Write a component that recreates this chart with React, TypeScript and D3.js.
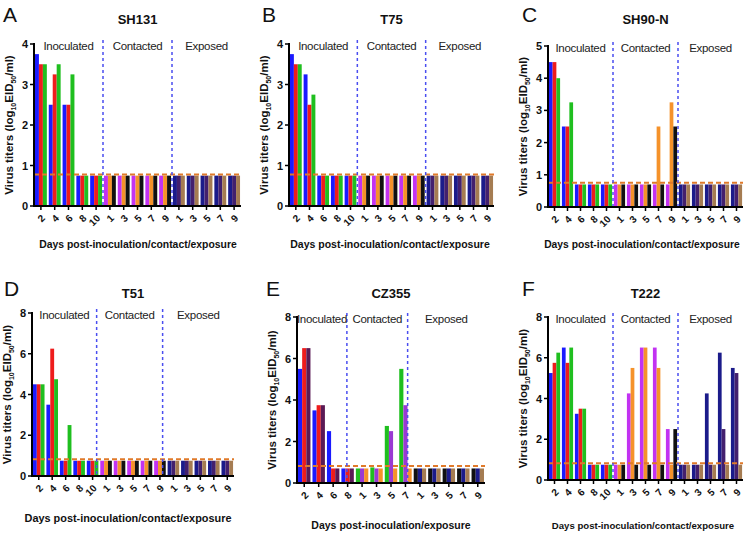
import React from "react";
import * as d3 from "d3";

// ---------- tick labels ----------
const inocDays = ["2", "4", "6", "8", "10"];
const oddDays = ["1", "3", "5", "7", "9"];
const eInocDays = ["2", "4", "6", "8"];
const eContactDays = ["1", "3", "5", "7"];

// ---------- values: one row per day, three animals per row ----------
const aValues = [
  [3.75, 3.5, 3.5], [2.5, 3.25, 3.5], [2.5, 2.5, 3.25], [0.75, 0.75, 0.75], [0.75, 0.75, 0.75],
  [0.75, 0.75, 0.75], [0.75, 0.75, 0.75], [0.75, 0.75, 0.75], [0.75, 0.75, 0.75], [0.75, 0.75, 0.75],
  [0.75, 0.75, 0.75], [0.75, 0.75, 0.75], [0.75, 0.75, 0.75], [0.75, 0.75, 0.75], [0.75, 0.75, 0.75],
];
const bValues = [
  [3.75, 3.5, 3.5], [3.25, 2.5, 2.75], [0.75, 0.75, 0.75], [0.75, 0.75, 0.75], [0.75, 0.75, 0.75],
  [0.75, 0.75, 0.75], [0.75, 0.75, 0.75], [0.75, 0.75, 0.75], [0.75, 0.75, 0.75], [0.75, 0.75, 0.75],
  [0.75, 0.75, 0.75], [0.75, 0.75, 0.75], [0.75, 0.75, 0.75], [0.75, 0.75, 0.75], [0.75, 0.75, 0.75],
];
const cValues = [
  [4.5, 4.5, 4.0], [2.5, 2.5, 3.25], [0.7, 0.7, 0.7], [0.7, 0.7, 0.7], [0.7, 0.7, 0.7],
  [0.7, 0.7, 0.7], [0.7, 0.7, 0.7], [0.7, 0.7, 0.7], [0.7, 2.5, 0.7], [0.7, 3.25, 2.5],
  [0.7, 0.7, 0.7], [0.7, 0.7, 0.7], [0.7, 0.7, 0.7], [0.7, 0.7, 0.7], [0.7, 0.7, 0.7],
];
const dValues = [
  [4.5, 4.5, 4.5], [3.5, 6.25, 4.75], [0.75, 0.75, 2.5], [0.75, 0.75, 0.75], [0.75, 0.75, 0.75],
  [0.75, 0.75, 0.75], [0.75, 0.75, 0.75], [0.75, 0.75, 0.75], [0.75, 0.75, 0.75], [0.75, 0.75, 0.75],
  [0.75, 0.75, 0.75], [0.75, 0.75, 0.75], [0.75, 0.75, 0.75], [0.75, 0.75, 0.75], [0.75, 0.75, 0.75],
];
const eValues = [
  [5.5, 6.5, 6.5], [3.5, 3.75, 3.75], [2.5, 0.7, 0.7], [0.7, 0.7, 0.7],
  [0.7, 0.7, 0.7], [0.75, 0.7, 0.7], [2.75, 2.5, 0.7], [5.5, 3.75, 0.7],
  [0.7, 0.7, 0.7], [0.7, 0.7, 0.7], [0.7, 0.7, 0.7], [0.7, 0.7, 0.7], [0.7, 0.7, 0.7],
];
const fValues = [
  [5.25, 5.75, 6.25], [6.5, 5.75, 6.5], [3.25, 3.5, 3.5], [0.75, 0.75, 0.75], [0.75, 0.75, 0.75],
  [0.75, 0.75, 0.75], [4.25, 5.5, 0.75], [6.5, 6.5, 0.75], [6.5, 5.5, 0.75], [2.5, 0.75, 2.5],
  [0.75, 0.75, 0.75], [0.75, 0.75, 0.75], [4.25, 0.75, 0.75], [6.25, 2.5, 0.75], [5.5, 5.25, 0.75],
];

// limit-of-detection lines
const lodValues = [0.78, 0.78, 0.75, 0.82, 0.82, 0.82];

const C = {
  blue: "#1a1aff",
  red: "#ee1c1c",
  green: "#1fbf1f",
  purple: "#c232f2",
  orange: "#f5922a",
  black: "#111111",
  navy: "#1b1b8a",
  dpurple: "#43206e",
  brown: "#a57c52",
  maroon: "#5a1a55",
  violet: "#9a3ad2",
};

const stdSections = [
  { name: "Inoculated", labels: inocDays, colors: [C.blue, C.red, C.green] },
  { name: "Contacted", labels: oddDays, colors: [C.purple, C.orange, C.black] },
  { name: "Exposed", labels: oddDays, colors: [C.navy, C.dpurple, C.brown] },
];
const eSections = [
  { name: "Inoculated", labels: eInocDays, colors: [C.blue, C.red, C.maroon] },
  { name: "Contacted", labels: eContactDays, colors: [C.green, C.violet, C.orange] },
  { name: "Exposed", labels: oddDays, colors: [C.black, C.navy, C.brown] },
];

const FONT = "Liberation Sans, Arial, sans-serif";

type PanelProps = {
  letter: string;
  title: string;
  xTitle: string;
  values: number[][];
  sections: typeof stdSections;
  lod: number;
  x0: number;
  x1: number;
  yZero: number;
  yTop: number;
  ymax: number;
  yTicks: number[];
  dividers: number[];
  ox: number;
  oy: number;
  xTitleY: number;
  xTitleX: number;
  xTitleFs: number;
};

function Panel(p: PanelProps) {
  const labels: string[] = [];
  const colors: string[][] = [];
  p.sections.forEach((s) => {
    s.labels.forEach((l) => {
      labels.push(l);
      colors.push(s.colors);
    });
  });
  const n = labels.length;
  const pin = 0.14;
  const x = d3
    .scaleBand<number>()
    .domain(d3.range(n))
    .range([p.x0, p.x1])
    .paddingInner(pin)
    .paddingOuter(pin / 2);
  const inner = d3.scaleBand<number>().domain([0, 1, 2]).range([0, x.bandwidth()]);
  const y = d3.scaleLinear().domain([0, p.ymax]).range([p.yZero, p.yTop]);
  const step = x.step();
  const divX = (k: number) => p.x0 + k * step;
  const divs = p.dividers;
  const secBounds = [0, ...divs, n];
  const center = (p.x0 + p.x1) / 2;

  return (
    <g>
      <text x={p.ox} y={p.oy} fontSize={21} fontFamily={FONT} fill="#111">
        {p.letter}
      </text>
      <text x={center} y={p.oy + 2} fontSize={13} fontWeight="bold" textAnchor="middle" fontFamily={FONT} fill="#111">
        {p.title}
      </text>
      {/* bars */}
      {p.values.map((g, i) =>
        g.map((v, j) => (
          <rect
            key={`${i}-${j}`}
            x={(x(i) as number) + (inner(j) as number)}
            y={y(v)}
            width={inner.bandwidth()}
            height={p.yZero - y(v)}
            fill={colors[i][j]}
          />
        ))
      )}
      {/* LOD line */}
      <line
        x1={p.x0}
        x2={p.x1}
        y1={y(p.lod)}
        y2={y(p.lod)}
        stroke="#e07a2a"
        strokeWidth={2}
        strokeDasharray="5,3"
      />
      {/* dividers */}
      {divs.map((k, i) => (
        <line
          key={i}
          x1={divX(k)}
          x2={divX(k)}
          y1={p.yTop - 4}
          y2={p.yZero}
          stroke="#4a4ef0"
          strokeWidth={1.5}
          strokeDasharray="3,3"
        />
      ))}
      {/* section labels */}
      {p.sections.map((s, i) => (
        <text
          key={s.name}
          x={(divX(secBounds[i]) + divX(secBounds[i + 1])) / 2}
          y={p.yTop + 6}
          fontSize={11.5}
          textAnchor="middle"
          fontFamily={FONT}
          fill="#222"
          style={{ letterSpacing: "-0.3px" }}
        >
          {s.name}
        </text>
      ))}
      {/* axes */}
      <line x1={p.x0} x2={p.x0} y1={p.yTop - 1} y2={p.yZero + 1} stroke="#000" strokeWidth={2} />
      <line x1={p.x0} x2={p.x1} y1={p.yZero} y2={p.yZero} stroke="#000" strokeWidth={2} />
      {p.yTicks.map((t) => (
        <g key={t}>
          <line x1={p.x0 - 4} x2={p.x0} y1={y(t)} y2={y(t)} stroke="#000" strokeWidth={1.5} />
          <text
            x={p.x0 - 6}
            y={y(t) + 4}
            fontSize={11}
            fontWeight="bold"
            textAnchor="end"
            fontFamily={FONT}
            fill="#111"
          >
            {t}
          </text>
        </g>
      ))}
      {labels.map((l, i) => {
        const cx = (x(i) as number) + x.bandwidth() / 2;
        return (
          <g key={i}>
            <line x1={cx} x2={cx} y1={p.yZero} y2={p.yZero + 4} stroke="#000" strokeWidth={1.5} />
            <text
              transform={`translate(${cx + 3},${p.yZero + 11}) rotate(-45)`}
              fontSize={10}
              fontWeight="bold"
              textAnchor="end"
              dominantBaseline="middle"
              fontFamily={FONT}
              fill="#111"
            >
              {l}
            </text>
          </g>
        );
      })}
      {/* y title */}
      <text
        transform={`translate(${p.x0 - 21},${(p.yTop + p.yZero) / 2}) rotate(-90)`}
        fontSize={11.5}
        fontWeight="bold"
        textAnchor="middle"
        fontFamily={FONT}
        fill="#111"
      >
        Virus titers{"  "}(log
        <tspan fontSize={7} dy={3}>10</tspan>
        <tspan dy={-3}>EID</tspan>
        <tspan fontSize={7} dy={3}>50</tspan>
        <tspan dy={-3}>/ml)</tspan>
      </text>
      <text
        x={p.xTitleX}
        y={p.xTitleY}
        fontSize={p.xTitleFs}
        fontWeight="bold"
        textAnchor="middle"
        fontFamily={FONT}
        fill="#111"
      >
        {p.xTitle}
      </text>
    </g>
  );
}

export default function App() {
  const xt = "Days post-inoculation/contact/exposure";
  return (
    <svg width={750} height={535} style={{ position: "absolute", left: 0, top: 0, background: "#fff" }}>
      <Panel letter="A" title="SH131" xTitle={xt} values={aValues} sections={stdSections} lod={lodValues[0]}
        x0={34} x1={241} yZero={206} yTop={44} ymax={4} yTicks={[0, 1, 2, 3, 4]} dividers={[5, 10]}
        ox={3} oy={22} xTitleY={248} xTitleX={138} xTitleFs={10.4} />
      <Panel letter="B" title="T75" xTitle={xt} values={bValues} sections={stdSections} lod={lodValues[1]}
        x0={289} x1={494} yZero={206} yTop={44} ymax={4} yTicks={[0, 1, 2, 3, 4]} dividers={[5, 10]}
        ox={262} oy={22} xTitleY={248} xTitleX={390} xTitleFs={10.5} />
      <Panel letter="C" title="SH90-N" xTitle={xt} values={cValues} sections={stdSections} lod={lodValues[2]}
        x0={548} x1={743} yZero={207} yTop={46} ymax={5} yTicks={[0, 1, 2, 3, 4, 5]} dividers={[5, 10]}
        ox={522} oy={22} xTitleY={248} xTitleX={642} xTitleFs={10.3} />
      <Panel letter="D" title="T51" xTitle={xt} values={dValues} sections={stdSections} lod={lodValues[3]}
        x0={32} x1={234} yZero={476} yTop={313} ymax={8} yTicks={[0, 2, 4, 6, 8]} dividers={[4.8, 9.7]}
        ox={4} oy={296} xTitleY={522} xTitleX={128} xTitleFs={10.9} />
      <Panel letter="E" title="CZ355" xTitle="Days post-inoculation/exposure" values={eValues} sections={eSections} lod={lodValues[4]}
        x0={297} x1={485} yZero={483} yTop={317} ymax={8} yTicks={[0, 2, 4, 6, 8]} dividers={[3.45, 7.65]}
        ox={266} oy={296} xTitleY={529} xTitleX={391} xTitleFs={10.5} />
      <Panel letter="F" title="T222" xTitle={xt} values={fValues} sections={stdSections} lod={lodValues[5]}
        x0={548} x1={743} yZero={480} yTop={317} ymax={8} yTicks={[0, 2, 4, 6, 8]} dividers={[5, 10]}
        ox={522} oy={296} xTitleY={529} xTitleX={643} xTitleFs={9.6} />
    </svg>
  );
}
